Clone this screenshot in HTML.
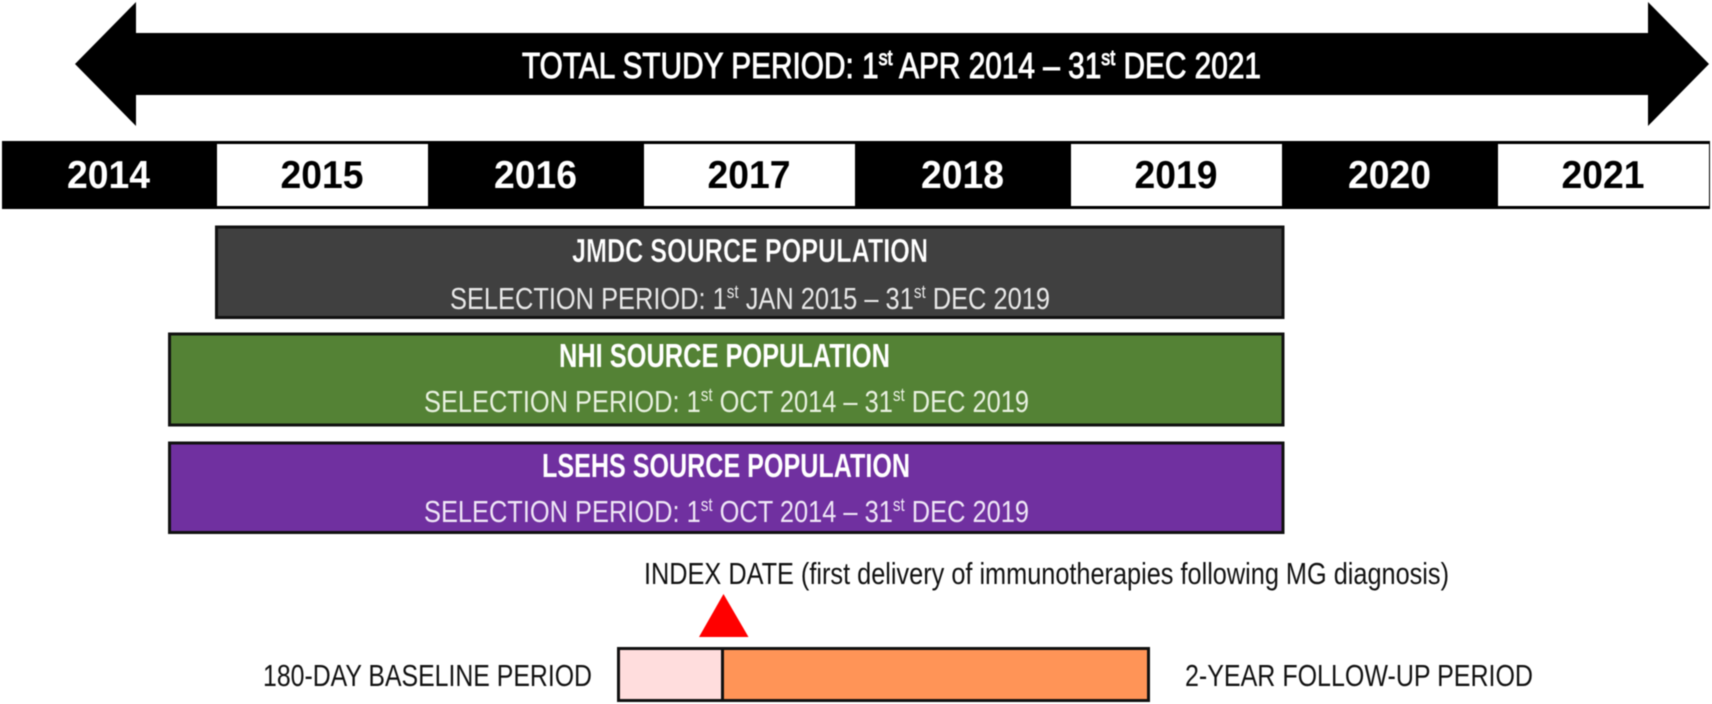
<!DOCTYPE html>
<html lang="en">
<head>
<meta charset="utf-8">
<title>Study period timeline</title>
<style>
  html, body { margin: 0; padding: 0; background: #fff; }
  svg { display: block; filter: blur(0.45px); }
  text { font-family: "Liberation Sans", Arial, sans-serif; }
  .sup { font-size: 0.6em; }
</style>
</head>
<body>
<svg id="chart" xmlns="http://www.w3.org/2000/svg" width="1712" height="704" viewBox="0 0 1712 704">
  <rect x="0" y="0" width="1712" height="704" fill="#ffffff"/>

  <polygon fill="#000000" points="75,64 136,2 136,33 1648,33 1648,2 1709,64 1648,126 1648,95 136,95 136,126"/>
  <text x="522" y="78" font-size="36" font-weight="400" fill="#ffffff" stroke="#ffffff" stroke-width="1" textLength="739" lengthAdjust="spacingAndGlyphs">TOTAL STUDY PERIOD: 1<tspan class="sup" dy="-13">st</tspan><tspan dy="13"> APR 2014 – 31</tspan><tspan class="sup" dy="-13">st</tspan><tspan dy="13"> DEC 2021</tspan></text>

  <rect x="2" y="141" width="1708" height="68" fill="#000000"/>
  <g id="year-cells"></g>
  <g id="source-bars"></g>

  <text x="572" y="262" font-size="33" font-weight="700" fill="#ffffff" stroke="#222222" stroke-width="0.3" textLength="356" lengthAdjust="spacingAndGlyphs">JMDC SOURCE POPULATION</text>
  <text x="450" y="309" font-size="31" fill="#e8e8e8" textLength="600" lengthAdjust="spacingAndGlyphs">SELECTION PERIOD: 1<tspan class="sup" dy="-11">st</tspan><tspan dy="11"> JAN 2015 – 31</tspan><tspan class="sup" dy="-11">st</tspan><tspan dy="11"> DEC 2019</tspan></text>

  <text x="559" y="367" font-size="33" font-weight="700" fill="#ffffff" textLength="331" lengthAdjust="spacingAndGlyphs">NHI SOURCE POPULATION</text>
  <text x="424" y="412" font-size="31" fill="#e8f0e0" textLength="605" lengthAdjust="spacingAndGlyphs">SELECTION PERIOD: 1<tspan class="sup" dy="-11">st</tspan><tspan dy="11"> OCT 2014 – 31</tspan><tspan class="sup" dy="-11">st</tspan><tspan dy="11"> DEC 2019</tspan></text>

  <text x="542" y="477" font-size="33" font-weight="700" fill="#ffffff" textLength="368" lengthAdjust="spacingAndGlyphs">LSEHS SOURCE POPULATION</text>
  <text x="424" y="522" font-size="31" fill="#efe6f6" textLength="605" lengthAdjust="spacingAndGlyphs">SELECTION PERIOD: 1<tspan class="sup" dy="-11">st</tspan><tspan dy="11"> OCT 2014 – 31</tspan><tspan class="sup" dy="-11">st</tspan><tspan dy="11"> DEC 2019</tspan></text>

  <text x="644" y="584" font-size="31" fill="#111111" textLength="805" lengthAdjust="spacingAndGlyphs">INDEX DATE (first delivery of immunotherapies following MG diagnosis)</text>
  <polygon fill="#ff0000" points="723.5,594 748.5,637 699,637"/>

  <text x="263" y="686" font-size="31" fill="#111111" textLength="329" lengthAdjust="spacingAndGlyphs">180-DAY BASELINE PERIOD</text>
  <rect x="618.5" y="648.5" width="104" height="52" fill="#ffdddd" stroke="#111111" stroke-width="3"/>
  <rect x="722.5" y="648.5" width="426" height="52" fill="#ff9457" stroke="#111111" stroke-width="3"/>
  <text x="1185" y="686" font-size="31" fill="#111111" textLength="348" lengthAdjust="spacingAndGlyphs">2-YEAR FOLLOW-UP PERIOD</text>

  <script>
    var years = [2014, 2015, 2016, 2017, 2018, 2019, 2020, 2021];
    var yearLabels = ["2014", "2015", "2016", "2017", "2018", "2019", "2020", "2021"];
    var sourceNames = ["jmdc", "nhi", "lsehs"];
    var sourceStarts = [2015.0, 2014.78, 2014.78];
    var sourceEnds = [2020.0, 2020.0, 2020.0];
    var sourceColors = ["#404040", "#548235", "#7030a0"];

    var NS = "http://www.w3.org/2000/svg";
    function xOf(year) {
      return 2 + (year - 2014) * 213.5;
    }
    var yearGroup = document.getElementById("year-cells");
    years.forEach(function (year, i) {
      var isWhite = i % 2 === 1;
      if (isWhite) {
        var cell = document.createElementNS(NS, "rect");
        
        
        cell.setAttribute("x", xOf(year) + 1.5);
        cell.setAttribute("y", 144);
        cell.setAttribute("width", 211);
        cell.setAttribute("height", 62);
        cell.setAttribute("fill", "#ffffff");
        yearGroup.appendChild(cell);
      }
      var label = document.createElementNS(NS, "text");
      
      
      label.setAttribute("x", xOf(year) + 106.5 - 41.5);
      label.setAttribute("y", 188);
      label.setAttribute("textLength", "83");
      label.setAttribute("lengthAdjust", "spacingAndGlyphs");
      label.setAttribute("font-size", "39");
      label.setAttribute("font-weight", "700");
      label.setAttribute("fill", isWhite ? "#000000" : "#ffffff");
      label.textContent = yearLabels[i];
      yearGroup.appendChild(label);
    });

    var barTops = [227, 334, 443];
    var barHeights = [90.5, 91, 89.5];
    var barGroup = document.getElementById("source-bars");
    sourceNames.forEach(function (name, i) {
      var bar = document.createElementNS(NS, "rect");
      
      
      bar.setAttribute("x", xOf(sourceStarts[i]) + 1);
      bar.setAttribute("y", barTops[i]);
      bar.setAttribute("width", xOf(sourceEnds[i]) - xOf(sourceStarts[i]) - 1);
      bar.setAttribute("height", barHeights[i]);
      bar.setAttribute("fill", sourceColors[i]);
      bar.setAttribute("stroke", "#111111");
      bar.setAttribute("stroke-width", "3");
      barGroup.appendChild(bar);
    });
  </script>
</svg>
</body>
</html>
